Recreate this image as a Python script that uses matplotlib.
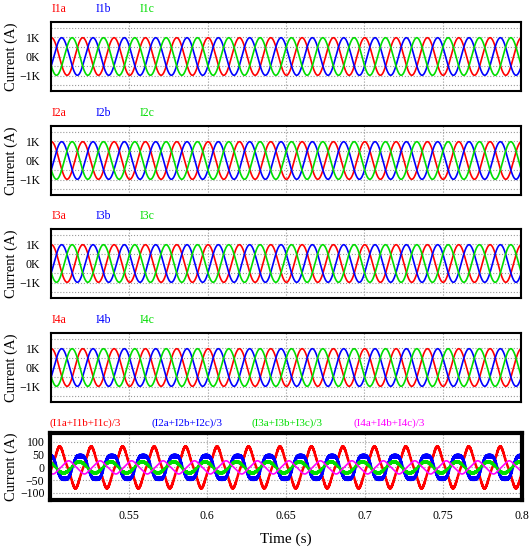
import numpy as np
from matplotlib import pyplot as plt

plt.rcParams['font.family'] = ['Liberation Serif', 'DejaVu Serif']

# values
t_start, t_end = 0.5, 0.8
freq_hz = 50.0
x_ticks = [0.55, 0.6, 0.65, 0.7, 0.75, 0.8]
x_tick_labels = ['0.55', '0.6', '0.65', '0.7', '0.75', '0.8']

# per-inverter phase currents (amps)
phase_amp = [980, 980, 980, 980]
phase_shift_deg = [-5, -123, -243]
phase_names = [['I1a', 'I1b', 'I1c'], ['I2a', 'I2b', 'I2c'],
               ['I3a', 'I3b', 'I3c'], ['I4a', 'I4b', 'I4c']]
top_yticks = [-1000, 0, 1000]
top_ylabels = ['\u22121K', '0K', '1K']
top_minor = [-1500, -500, 500, 1500]

# averaged (zero-sequence) currents in the bottom panel
avg_names = ['(I1a+I1b+I1c)/3', '(I2a+I2b+I2c)/3', '(I3a+I3b+I3c)/3', '(I4a+I4b+I4c)/3']
avg_amp = [74, 50, 22, 24]
avg_phase_deg = [-111, 13, 25, 146]
avg_h3 = [0.10, -0.12, 0.0, 0.08]       # 3rd harmonic share
avg_ripple = [1.5, 5.0, 2.5, 0.0]        # switching ripple amplitude
bot_yticks = [-100, -50, 0, 50, 100]
bot_ylabels = ['\u2212100', '\u221250', '0', '50', '100']

colors = ['#ff0000', '#0000ff', '#00dd00', '#ff00ff']

t = np.linspace(t_start, t_end, 30001)
theta = 2 * np.pi * freq_hz * (t - t_start)

fig = plt.figure(figsize=(5.32, 5.50), dpi=100)
W, H = 532.0, 550.0

# axes boxes in pixels (left, top, right, bottom)
top_boxes = [(51, 22, 521, 91), (51, 126, 521, 195), (51, 229, 521, 298), (51, 333, 521, 402)]
bot_box = (50, 433, 522, 500)


def px_axes(box):
    l, tp, r, b = box
    return fig.add_axes([l / W, 1 - b / H, (r - l) / W, (b - tp) / H])


def style_axes(ax, box, lw, pad):
    for s in ax.spines.values():
        s.set_linewidth(lw)
        s.set_color('black')
    ax.set_xlim(t_start, t_end)
    ax.set_xticks(x_ticks)
    ax.tick_params(axis='both', which='both', length=0, labelsize=8.5, pad=pad)
    ax.grid(True, which='both', color='#999999', linestyle=':', linewidth=0.8)
    ax.set_axisbelow(True)
    ax.set_ylabel('Current (A)', fontsize=10.5, va='center')
    ax.yaxis.set_label_coords((11 - box[0]) / (box[2] - box[0]), 0.5)


for i, box in enumerate(top_boxes):
    ax = px_axes(box)
    for k in range(3):
        y = phase_amp[i] * np.cos(theta + np.deg2rad(phase_shift_deg[k]))
        ax.plot(t, y, color=colors[k], linewidth=1.2)
    ax.set_ylim(-1800, 1800)
    ax.set_yticks(top_yticks)
    ax.set_yticklabels(top_ylabels)
    ax.set_yticks(top_minor, minor=True)
    style_axes(ax, box, 1.5, 8)
    ax.set_xticklabels([])
    label_y = box[1] - 13
    for k in range(3):
        fig.text((52 + 44 * k) / W, 1 - label_y / H, phase_names[i][k], color=colors[k],
                 fontsize=8.5, ha='left', va='center')

ax = px_axes(bot_box)
for k in range(4):
    ph = theta + np.deg2rad(avg_phase_deg[k])
    base = np.cos(ph) + avg_h3[k] * np.cos(3 * ph)
    ripple = avg_ripple[k] * np.abs(np.cos(ph)) * np.sin(2 * np.pi * 5000 * t)
    lw = 1.2 if k == 3 else 1.8
    ax.plot(t, avg_amp[k] * base + ripple, color=colors[k], linewidth=lw)
ax.set_ylim(-128, 135)
ax.set_yticks(bot_yticks)
ax.set_yticklabels(bot_ylabels)
style_axes(ax, bot_box, 3.0, 4)
ax.set_xticklabels(x_tick_labels)
ax.tick_params(axis='x', pad=7)
ax.set_xlabel('Time (s)', fontsize=11, labelpad=8)

for k in range(4):
    fig.text((50 + 101 * k) / W, 1 - 423 / H, avg_names[k], color=colors[k],
             fontsize=8, ha='left', va='center')

fig.savefig('out.png', dpi=100)
